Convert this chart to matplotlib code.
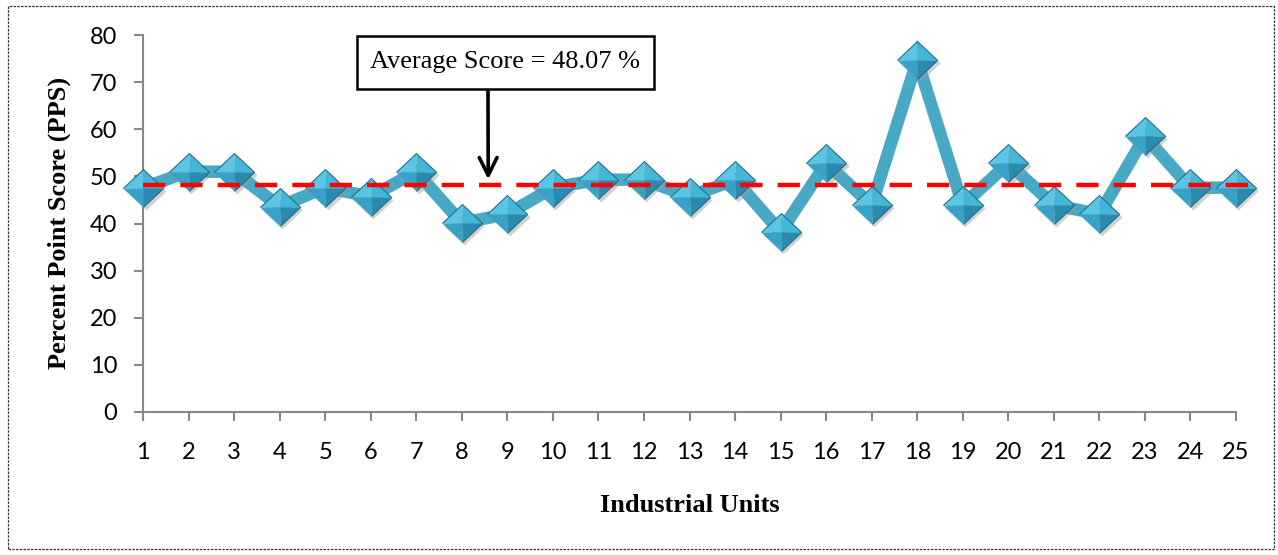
import numpy as np
import matplotlib
matplotlib.use("Agg")
import matplotlib.pyplot as plt
from matplotlib.patches import Rectangle
from matplotlib.transforms import offset_copy

units = list(range(1, 26))
scores = [47.6, 51.0, 51.0, 43.6, 47.6, 45.7, 51.0, 40.1, 42.0, 47.6,
          49.3, 49.3, 45.7, 49.3, 38.2, 52.8, 43.9, 74.7, 43.9, 52.8,
          43.9, 42.0, 58.5, 47.6, 47.6]
average = 48.07
avg_label = "Average Score = 48.07 %"

line_col = "#47A9C4"
serif = ["Liberation Serif", "DejaVu Serif"]
sans = ["Lato", "DejaVu Sans"]

fig = plt.figure(figsize=(12.78, 5.55), dpi=100)
ax = fig.add_axes([143 / 1278, 1 - 412 / 555, (1236 - 143) / 1278, (412 - 35) / 555])

# dashed frame round the whole chart
fig.patches.append(Rectangle((8 / 1278, 6 / 555), 1266 / 1278, 543 / 555,
                             transform=fig.transFigure, fill=False,
                             ec="#333333", lw=0.9, ls=(0, (2, 1))))

# thick series line
ax.plot(units, scores, color=line_col, lw=9, solid_joinstyle="miter", zorder=2)

# pyramid style diamond markers: shadow, then four faces
ms = 29
diamond = [(-1, 0), (0, 0.94), (1, 0), (0, -0.94)]
faces = [
    ([(-1, 0), (0, 0.94), (0, 0)], "#5BC6E4"),
    ([(1, 0), (0, 0.94), (0, 0)], "#44B6D8"),
    ([(-1, 0), (0, -0.94), (0, 0)], "#37A2C5"),
    ([(1, 0), (0, -0.94), (0, 0)], "#2A8BAE"),
]
shadow = offset_copy(ax.transData, fig=fig, x=2.5, y=-3, units="dots")
ax.plot(units, scores, ls="none", marker=diamond, ms=ms, mfc="#9A9A9A",
        mec="none", alpha=0.45, transform=shadow, zorder=3, clip_on=False)
for verts, col in faces:
    ax.plot(units, scores, ls="none", marker=verts, ms=ms, mfc=col,
            mec="none", zorder=4, clip_on=False)
ax.plot(units, scores, ls="none", marker=diamond, ms=ms, mfc="none",
        mec="#22708C", mew=0.8, zorder=5, clip_on=False)

# average line
ax.plot([1, 25.3], [average, average], color="red", lw=3.2,
        ls=(0, (5, 3.4)), clip_on=False, zorder=6)

ax.set_xlim(1, 25)
ax.set_ylim(0, 80)
ax.set_xticks(units)
ax.set_yticks(range(0, 81, 10))
for s in ["top", "right"]:
    ax.spines[s].set_visible(False)
for s in ["left", "bottom"]:
    ax.spines[s].set_color("#888888")
    ax.spines[s].set_linewidth(1.5)
ax.tick_params(axis="both", colors="#888888", width=1.5, length=6.5,
               labelcolor="black", labelsize=17)
ax.tick_params(axis="x", pad=15)
ax.tick_params(axis="y", pad=12)
for lab in ax.get_xticklabels() + ax.get_yticklabels():
    lab.set_family(sans)

fig.text(59 / 1278, 1 - 223 / 555, "Percent Point Score (PPS)", family=serif,
         weight="bold", fontsize=19, rotation=90, ha="center", va="center")
fig.text(690 / 1278, 1 - 505 / 555, "Industrial Units", family=serif,
         weight="bold", fontsize=19, ha="center", va="center")

# callout box with arrow to the average line
fig.patches.append(Rectangle((357 / 1278, 1 - 89 / 555), 297 / 1278, 53 / 555,
                             transform=fig.transFigure, fill=True, fc="white",
                             ec="black", lw=1.8, zorder=7))
fig.text(505 / 1278, 1 - 62 / 555, avg_label, family=serif, fontsize=19,
         ha="center", va="center", zorder=8)
ax.annotate("", xy=(8.58, average + 1.3), xycoords="data",
            xytext=(488 / 1278, 1 - 91 / 555), textcoords="figure fraction",
            arrowprops=dict(arrowstyle="->", lw=2.6, color="black",
                            mutation_scale=32, shrinkA=0, shrinkB=0))

fig.savefig("out.png", dpi=100)
